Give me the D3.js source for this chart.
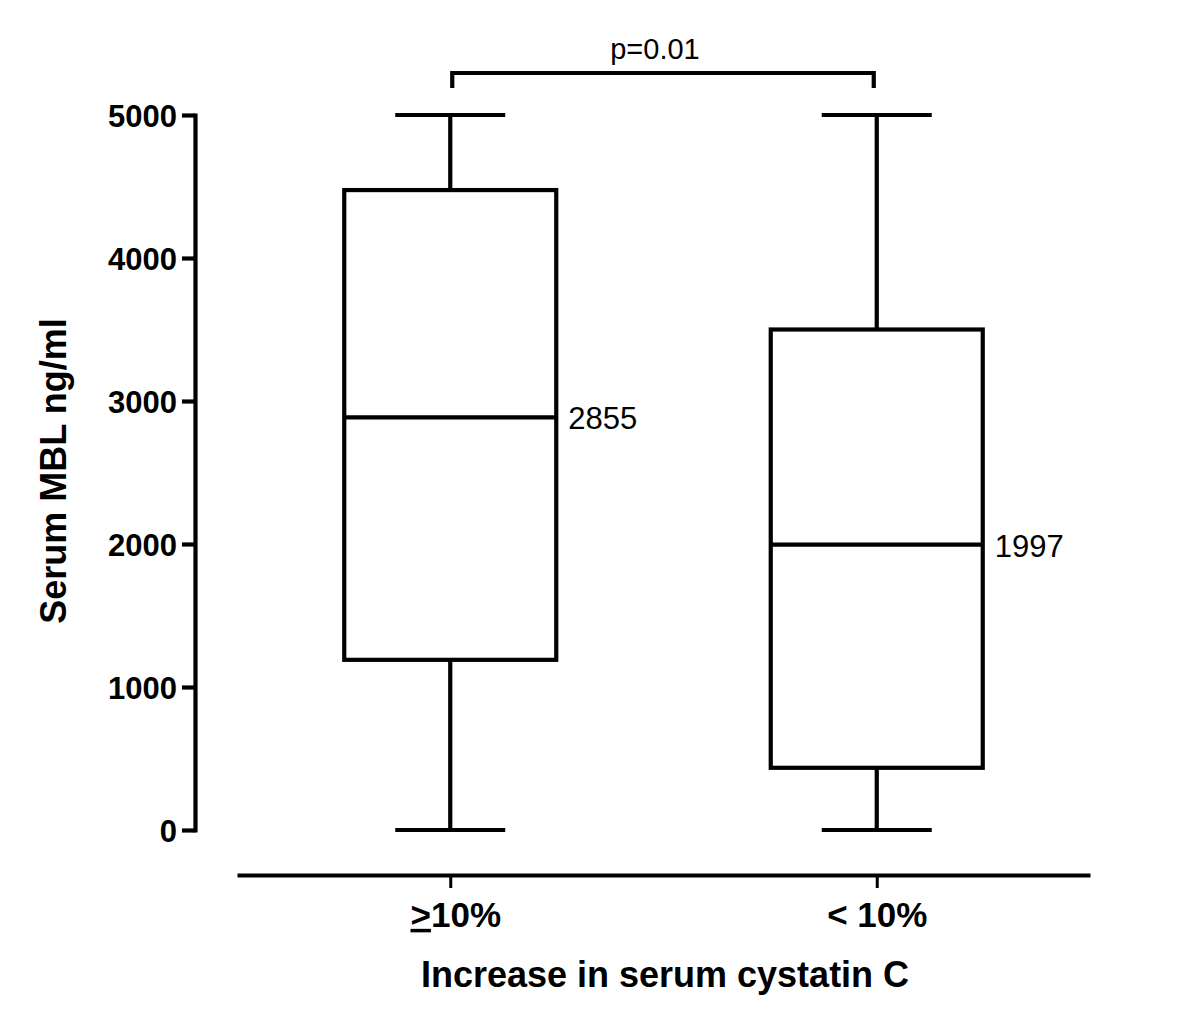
<!DOCTYPE html>
<html>
<head>
<meta charset="utf-8">
<script src="https://cdn.jsdelivr.net/npm/d3@7"></script>
<style>
  body { margin: 0; background: #fff; }
  text { font-family: "Liberation Sans", Arial, sans-serif; fill: #000; }
</style>
</head>
<body>
<script>
// box plot values
var categories = [">10%", "< 10%"];
var mins    = [0, 0];
var q1s     = [1190, 435];
var medians = [2885, 1995];
var q3s     = [4475, 3500];
var maxs    = [5000, 5000];
var medianLabels = ["2855", "1997"];
var yTicks = [0, 1000, 2000, 3000, 4000, 5000];
var pText = "p=0.01";

var width = 1200, height = 1026;

var svg = d3.select("body").append("svg")
    .attr("width", width)
    .attr("height", height);

// scales
var x = d3.scalePoint()
    .domain(categories)
    .range([237, 1090])
    .padding(0.5);

var y = d3.scaleLinear()
    .domain([0, 5000])
    .range([830, 115]);

var boxHalf = 106, capHalf = 55, lw = 4.2;

var data = categories.map(function(c, i) {
  return {cat: c, min: mins[i], q1: q1s[i], med: medians[i], q3: q3s[i], max: maxs[i], label: medianLabels[i]};
});

// Y axis
var yAxis = svg.append("g")
    .attr("transform", "translate(195,0)")
    .call(d3.axisLeft(y).tickValues(yTicks).tickFormat(d3.format("d"))
      .tickSize(13).tickSizeOuter(0).tickPadding(5));
yAxis.select(".domain").attr("stroke-width", lw).attr("stroke-linecap", "square");
yAxis.selectAll(".tick line").attr("stroke-width", lw);
yAxis.selectAll(".tick text")
    .attr("font-size", 31).attr("font-weight", "bold")
    .attr("font-family", "Liberation Sans, Arial, sans-serif")
    .attr("dy", "0.36em");

// X axis
var xAxis = svg.append("g")
    .attr("transform", "translate(0,875)")
    .call(d3.axisBottom(x).tickSize(13).tickSizeOuter(0).tickPadding(14));
xAxis.select(".domain").attr("stroke-width", lw);
xAxis.selectAll(".tick line").attr("stroke-width", 3);
xAxis.selectAll(".tick text")
    .attr("font-size", 35).attr("font-weight", "bold")
    .attr("font-family", "Liberation Sans, Arial, sans-serif")
    .each(function(d) {
      var t = d3.select(this);
      if (d.charAt(0) === ">") {
        t.text(null).attr("dx", 5);
        t.append("tspan").attr("text-decoration", "underline").text(">");
        t.append("tspan").text(d.slice(1));
      }
    });

// boxes
var g = svg.selectAll(".box")
    .data(data)
  .enter().append("g")
    .attr("class", "box")
    .attr("stroke", "#000")
    .attr("stroke-width", lw)
    .attr("fill", "none");

// whiskers
g.append("line")
    .attr("x1", function(d) { return x(d.cat); })
    .attr("x2", function(d) { return x(d.cat); })
    .attr("y1", function(d) { return y(d.max); })
    .attr("y2", function(d) { return y(d.q3); });
g.append("line")
    .attr("x1", function(d) { return x(d.cat); })
    .attr("x2", function(d) { return x(d.cat); })
    .attr("y1", function(d) { return y(d.q1); })
    .attr("y2", function(d) { return y(d.min); });

// caps
g.append("line")
    .attr("x1", function(d) { return x(d.cat) - capHalf; })
    .attr("x2", function(d) { return x(d.cat) + capHalf; })
    .attr("y1", function(d) { return y(d.max); })
    .attr("y2", function(d) { return y(d.max); });
g.append("line")
    .attr("x1", function(d) { return x(d.cat) - capHalf; })
    .attr("x2", function(d) { return x(d.cat) + capHalf; })
    .attr("y1", function(d) { return y(d.min); })
    .attr("y2", function(d) { return y(d.min); });

// box
g.append("rect")
    .attr("x", function(d) { return x(d.cat) - boxHalf; })
    .attr("width", boxHalf * 2)
    .attr("y", function(d) { return y(d.q3); })
    .attr("height", function(d) { return y(d.q1) - y(d.q3); })
    .attr("fill", "#fff");

// median
g.append("line")
    .attr("x1", function(d) { return x(d.cat) - boxHalf; })
    .attr("x2", function(d) { return x(d.cat) + boxHalf; })
    .attr("y1", function(d) { return y(d.med); })
    .attr("y2", function(d) { return y(d.med); });

// median labels
svg.selectAll(".medlabel")
    .data(data)
  .enter().append("text")
    .attr("class", "medlabel")
    .attr("x", function(d) { return x(d.cat) + boxHalf + 12; })
    .attr("y", function(d) { return y(d.med) + 12; })
    .attr("font-size", 31)
    .text(function(d) { return d.label; });

// significance bracket
var bx1 = x(categories[0]) + 2, bx2 = x(categories[1]) - 3;
svg.append("path")
    .attr("d", "M" + bx1 + ",88V73H" + bx2 + "V88")
    .attr("fill", "none")
    .attr("stroke", "#000")
    .attr("stroke-width", lw);
svg.append("text")
    .attr("x", (bx1 + bx2) / 2 - 8)
    .attr("y", 59)
    .attr("text-anchor", "middle")
    .attr("font-size", 29)
    .text(pText);

// axis titles
svg.append("text")
    .attr("text-anchor", "middle")
    .attr("transform", "translate(665,987)")
    .attr("font-size", 36)
    .attr("font-weight", "bold")
    .text("Increase in serum cystatin C");

svg.append("text")
    .attr("text-anchor", "middle")
    .attr("transform", "translate(66,471)rotate(-90)")
    .attr("font-size", 36)
    .attr("font-weight", "bold")
    .text("Serum MBL ng/ml");
</script>
</body>
</html>
